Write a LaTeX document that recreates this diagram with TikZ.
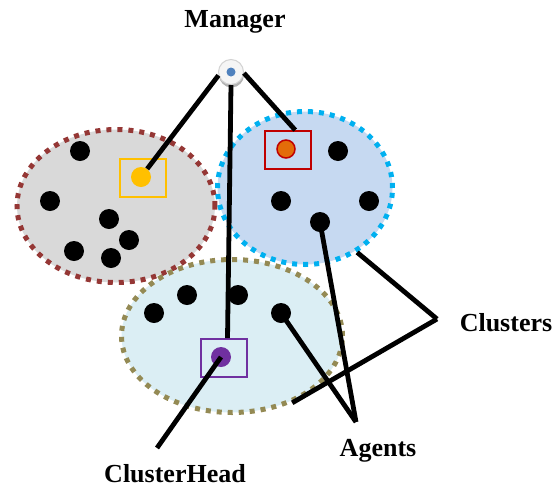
\documentclass[tikz,border=0pt]{standalone}
\usepackage{fontspec}
\setmainfont{Liberation Serif}
\usepackage{tikz}
\usetikzlibrary{shapes.geometric, positioning, calc, shadows}
\definecolor{greyfill}{HTML}{D9D9D9}
\definecolor{greyborder}{HTML}{953735}
\definecolor{bluefill}{HTML}{C6D9F1}
\definecolor{blueborder}{HTML}{00B0F0}
\definecolor{cyanfill}{HTML}{DBEEF4}
\definecolor{cyanborder}{HTML}{948A54}
\definecolor{headyellow}{HTML}{FFC000}
\definecolor{headred}{HTML}{C00000}
\definecolor{headorange}{HTML}{E36C09}
\definecolor{headpurple}{HTML}{7030A0}
\definecolor{mgrblue}{HTML}{4F81BD}

\begin{document}
\begin{tikzpicture}[x=1pt, y=-1pt,
    cluster/.style={ellipse, draw, line width=5pt, dash pattern=on 5pt off 6pt, inner sep=0pt},
    agent/.style={circle, fill=black, minimum size=20pt, inner sep=0pt},
    head/.style={circle, minimum size=20pt, inner sep=0pt},
    headbox/.style={draw, line width=1.8pt, minimum width=46pt, minimum height=38pt, inner sep=0pt},
    link/.style={line width=4.8pt},
    lbl/.style={font=\fontsize{26}{30}\selectfont\bfseries}]
    \useasboundingbox (0,0) rectangle (554,488);

    % Clusters
    \node[cluster, fill=greyfill, draw=greyborder, minimum width=198pt, minimum height=153pt] (greyC) at (116,206) {};
    \node[cluster, fill=cyanfill, draw=cyanborder, minimum width=221pt, minimum height=153pt] (cyanC) at (232,336) {};
    \node[cluster, fill=bluefill, draw=blueborder, minimum width=175pt, minimum height=153pt] (blueC) at (305,188) {};

    % Agents of the grey cluster
    \node[agent] (g1) at (80,151) {};
    \node[agent] (g2) at (50,201) {};
    \node[agent] (g3) at (109,219) {};
    \node[agent] (g4) at (129,240) {};
    \node[agent] (g5) at (74,251) {};
    \node[agent] (g6) at (111,258) {};

    % Agents of the blue cluster
    \node[agent] (b1) at (338,151) {};
    \node[agent] (b2) at (281,201) {};
    \node[agent] (b3) at (369,201) {};
    \node[agent] (b4) at (320,222) {};

    % Agents of the cyan cluster
    \node[agent] (c1) at (154,313) {};
    \node[agent] (c2) at (187,295) {};
    \node[agent] (c3) at (238,295) {};
    \node[agent] (c4) at (281,313) {};

    % Cluster heads
    \node[headbox, draw=headyellow] (ybox) at (143,178) {};
    \node[head, fill=headyellow] (ydot) at (141,177) {};
    \node[headbox, draw=headred] (rbox) at (288,150) {};
    \node[head, fill=headorange, draw=headred, line width=1.5pt, minimum size=18pt] (rdot) at (286,149) {};
    \node[headbox, draw=headpurple] (pbox) at (224,358) {};
    \node[head, fill=headpurple] (pdot) at (221,357) {};

    % Manager
    \node[circle, fill=gray!8, draw=gray!35, line width=1pt, minimum size=25pt, inner sep=0pt,
          drop shadow={shadow xshift=0.5pt, shadow yshift=-3pt, fill=gray!60, opacity=1}] (mgr) at (231,72) {};
    \node[circle, fill=mgrblue, minimum size=9pt, inner sep=0pt] (mgrdot) at (mgr) {};
    \node[lbl] (mgrlabel) at (235,22) {Manager};

    % Manager to cluster heads
    \draw[link] (mgr.195) -- (ydot);
    \draw[link] (mgr.-5) -- (rbox.70);
    \draw[link] (mgr.south) -- (pbox.80);

    % Labels
    \node[lbl] (clulabel) at (506,323) {Clusters};
    \node[lbl] (agtlabel) at (378,451) {Agents};
    \node[lbl] (chlabel) at (175,474) {ClusterHead};
    \coordinate (cluv) at (437,319);
    \coordinate (agtv) at (356,422);
    \coordinate (chv) at (157,448);

    % Pointers
    \draw[link] (cluv) -- (blueC.-51);
    \draw[link] (cluv) -- (cyanC.-48);
    \draw[link] (agtv) -- (b4.center);
    \draw[link] (agtv) -- (c4.center);
    \draw[link] (chv) -- (pdot.center);
\end{tikzpicture}
\end{document}
